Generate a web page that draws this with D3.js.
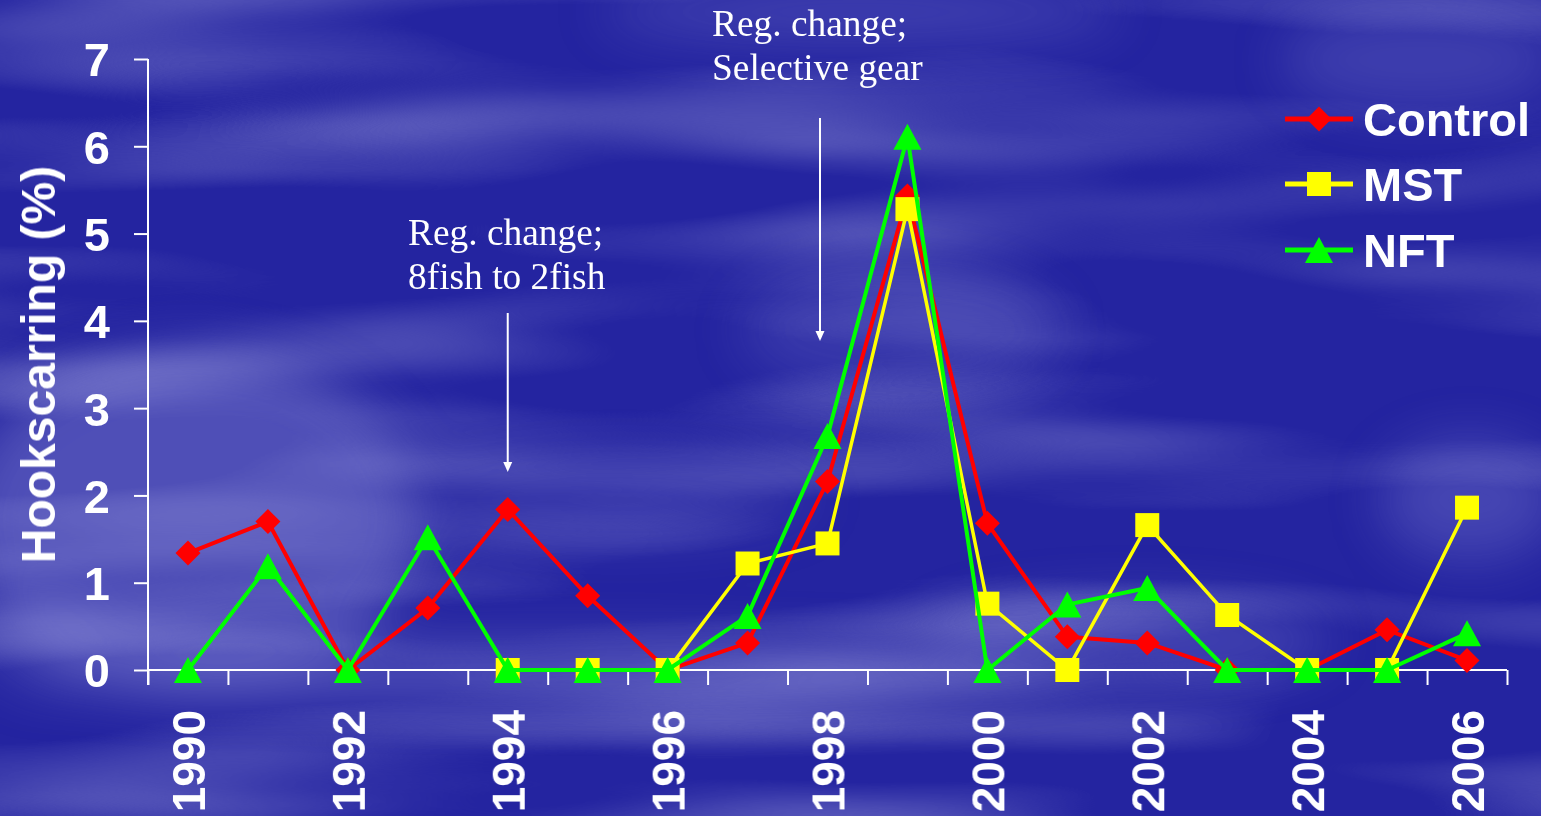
<!DOCTYPE html>
<html>
<head>
<meta charset="utf-8">
<script src="https://cdn.jsdelivr.net/npm/d3@7"></script>
<style>
  html, body { margin: 0; padding: 0; overflow: hidden; background: #2626a0; }
  svg { display: block; }
</style>
</head>
<body>
<svg id="chart" width="1541" height="816"></svg>
<script>
// Hookscarring rate by year for three groups
const years   = [1990,1991,1992,1993,1994,1995,1996,1997,1998,1999,2000,2001,2002,2003,2004,2005,2006];
const control = [1.34,1.70,0.00,0.71,1.84,0.85,0.00,0.31,2.16,5.43,1.68,0.38,0.31,0.00,0.00,0.46,0.11];
const mst     = [null,null,null,null,0.00,0.00,0.00,1.22,1.45,5.28,0.76,0.00,1.66,0.63,0.00,0.00,1.86];
const nft     = [0.00,1.19,0.00,1.52,0.00,0.00,0.00,0.62,2.68,6.11,0.00,0.75,0.94,0.00,0.00,0.00,0.42];
const yTicks  = [0,1,2,3,4,5,6,7];
const xLabels = [1990,1992,1994,1996,1998,2000,2002,2004,2006];
const seriesNames = ["Control","MST","NFT"];

// Annotations: regulation changes
const notes = [
  { lines: ["Reg. change;", "8fish to 2fish"] },
  { lines: ["Reg. change;", "Selective gear"] }
];

const W = 1541, H = 816;
const svg = d3.select("#chart");

// ---------- background: deep blue slide with soft cloudy streaks ----------
const defs = svg.append("defs");
const f = defs.append("filter").attr("id","clouds")
  .attr("x",0).attr("y",0).attr("width","100%").attr("height","100%")
  .attr("filterUnits","userSpaceOnUse");
f.append("feTurbulence").attr("type","fractalNoise")
  .attr("baseFrequency","0.0018 0.012").attr("numOctaves",2).attr("seed",11);
f.append("feColorMatrix").attr("type","matrix")
  .attr("values","0 0 0 0 0.75  0 0 0 0 0.75  0 0 0 0 1  1.4 0 0 0 -0.62");
const blur = defs.append("filter").attr("id","soft")
  .attr("x","-50%").attr("y","-50%").attr("width","200%").attr("height","200%");
blur.append("feGaussianBlur").attr("stdDeviation", 26);

svg.append("rect").attr("width",W).attr("height",H).attr("fill","#2424a0");
svg.append("rect").attr("width",W).attr("height",H).attr("filter","url(#clouds)").attr("opacity",0.5);

// lighter haze patches [cx, cy, rx, ry, opacity]
const haze = [
  [190, 520, 230, 170, 0.34],
  [560, 672, 520, 26, 0.36],
  [1130, 640, 200, 40, 0.24],
  [860, 12, 260, 28, 0.24],
  [1420, 60, 140, 50, 0.2],
  [1470, 500, 90, 60, 0.26],
  [900, 330, 160, 60, 0.16],
  [40, 640, 60, 50, 0.15],
  [620, 500, 200, 40, 0.12]
];
svg.append("g").attr("filter","url(#soft)")
  .selectAll("ellipse").data(haze).join("ellipse")
  .attr("cx", d => d[0]).attr("cy", d => d[1])
  .attr("rx", d => d[2]).attr("ry", d => d[3])
  .attr("fill", "#a4a4e6").attr("opacity", d => d[4]);

// ---------- scales ----------
const x = d3.scaleLinear().domain([1989.5, 2006.5]).range([148, 1507]);
const y = d3.scaleLinear().domain([0, 7]).range([670, 59]);

const white = "#ffffff";
const sans = "'Liberation Sans', Arial, sans-serif";
const serif = "'Liberation Serif', 'Times New Roman', serif";

// ---------- axes ----------
const yAxis = svg.append("g").attr("transform", `translate(${x.range()[0]},0)`)
  .call(d3.axisLeft(y).tickValues(yTicks).tickSize(14).tickPadding(24).tickFormat(d3.format("d")));
yAxis.select(".domain").remove();
yAxis.append("line").attr("x1",0).attr("x2",0).attr("y1",y(7)).attr("y2",y(0)+15)
  .attr("stroke",white).attr("stroke-width",2);
yAxis.selectAll(".tick line").attr("stroke",white).attr("stroke-width",2);
yAxis.selectAll(".tick text").attr("fill",white)
  .style("font-family",sans).style("font-weight","bold").style("font-size","47px")
  .attr("dy","0.36em");

const bounds = d3.range(1989.5, 2007, 1);
const xAxis = svg.append("g").attr("transform", `translate(0,${y(0)})`)
  .call(d3.axisBottom(x).tickValues(bounds).tickSize(15).tickFormat(""));
xAxis.select(".domain").remove();
xAxis.append("line").attr("x1",x.range()[0]).attr("x2",x.range()[1]).attr("y1",0).attr("y2",0)
  .attr("stroke",white).attr("stroke-width",2);
xAxis.selectAll(".tick line").attr("stroke",white).attr("stroke-width",2);

// rotated year labels
svg.append("g").selectAll("text").data(xLabels).join("text")
  .attr("transform", d => `translate(${x(d)},710) rotate(-90)`)
  .attr("text-anchor","end").attr("dy","0.36em")
  .attr("fill",white).style("font-family",sans).style("font-weight","bold").style("font-size","46px")
  .text(d => d);

// y axis title
svg.append("text")
  .attr("transform", `translate(38,${(y(0)+y(7))/2}) rotate(-90)`)
  .attr("text-anchor","middle").attr("dy","0.36em")
  .attr("fill",white).style("font-family",sans).style("font-weight","bold").style("font-size","48px")
  .text("Hookscarring (%)");

// ---------- annotations with arrows ----------
const noteG = svg.append("g");
const noteLayout = [
  { tx: 408, base: 245, ax: x(1994), ay1: 313, ay2: 472 },
  { tx: 712, base: 36,  ax: 820,     ay1: 118, ay2: 341 }
];
notes.forEach((n, i) => {
  const L = noteLayout[i];
  const t = noteG.append("text").attr("x", L.tx).attr("y", L.base)
    .attr("fill", white).style("font-family", serif).style("font-size","37.4px");
  n.lines.forEach((s, k) => t.append("tspan").attr("x", L.tx).attr("dy", k === 0 ? 0 : 44).text(s));
  noteG.append("line").attr("x1",L.ax).attr("x2",L.ax).attr("y1",L.ay1).attr("y2",L.ay2-8)
    .attr("stroke",white).attr("stroke-width",2);
  noteG.append("path")
    .attr("d", `M${L.ax-4.5},${L.ay2-10} L${L.ax+4.5},${L.ay2-10} L${L.ax},${L.ay2} Z`)
    .attr("fill", white);
});

// ---------- marker shapes ----------
const diamond = (s) => `M0,${-s} L${s},0 L0,${s} L${-s},0 Z`;
const square  = (s) => `M${-s},${-s} H${s} V${s} H${-s} Z`;
const triangle= (s) => `M0,${-s} L${s*1.08},${s} L${-s*1.08},${s} Z`;

const series = [
  { name: seriesNames[0], values: control, color: "#ff0000", width: 4,   marker: diamond(12.5) },
  { name: seriesNames[1], values: mst,     color: "#ffff00", width: 3.5, marker: square(12)   },
  { name: seriesNames[2], values: nft,     color: "#00ff00", width: 4,   marker: triangle(13) }
];

const line = d3.line()
  .defined(d => d.v !== null)
  .x(d => x(d.yr)).y(d => y(d.v));

series.forEach(s => {
  const pts = years.map((yr, i) => ({ yr, v: s.values[i] }));
  const g = svg.append("g");
  g.append("path").datum(pts).attr("d", line)
    .attr("fill","none").attr("stroke", s.color).attr("stroke-width", s.width)
    .attr("stroke-linejoin","miter");
  g.selectAll("path.m").data(pts.filter(p => p.v !== null)).join("path")
    .attr("class","m")
    .attr("transform", p => `translate(${x(p.yr)},${y(p.v)})`)
    .attr("d", s.marker).attr("fill", s.color);
});

// ---------- legend ----------
const legend = svg.append("g");
const legendY = [119, 184, 250];
series.forEach((s, i) => {
  const gy = legendY[i];
  legend.append("line").attr("x1",1285).attr("x2",1353).attr("y1",gy).attr("y2",gy)
    .attr("stroke", s.color).attr("stroke-width", 5);
  legend.append("path").attr("transform", `translate(1319,${gy})`)
    .attr("d", s.marker).attr("fill", s.color);
  legend.append("text").attr("x",1363).attr("y",gy).attr("dy","0.36em")
    .attr("fill",white).style("font-family",sans).style("font-weight","bold").style("font-size","47px")
    .text(s.name);
});
</script>
</body>
</html>
